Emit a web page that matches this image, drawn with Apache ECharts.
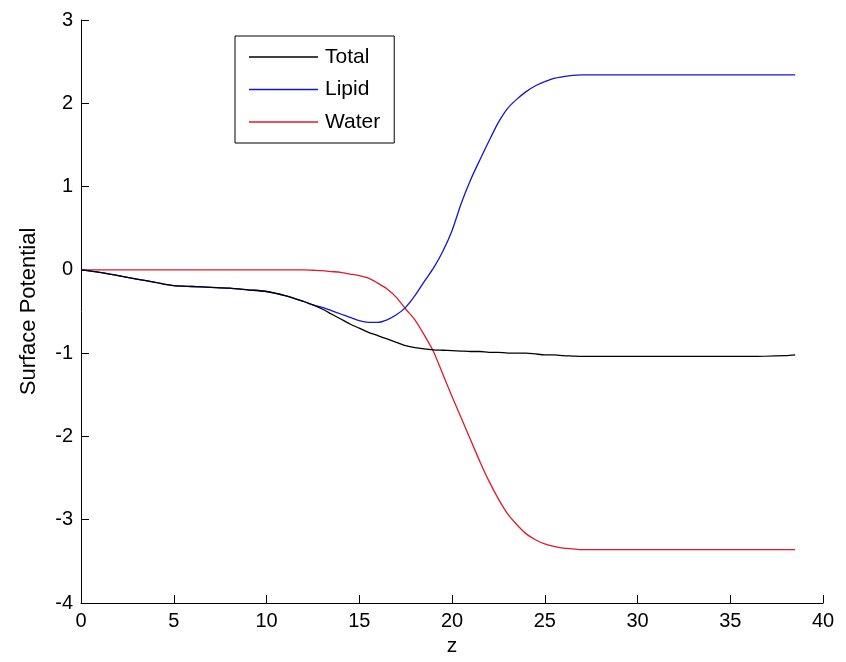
<!DOCTYPE html>
<html>
<head>
<meta charset="utf-8">
<script src="https://cdn.jsdelivr.net/npm/echarts@6/dist/echarts.min.js"></script>
<style>
  html, body { margin: 0; padding: 0; background: #ffffff; }
  #chart { width: 846px; height: 662px; }
</style>
</head>
<body>
<div id="chart"></div>
<script>
// Depth coordinate z
const zValues = [0, 1, 2, 3, 4, 5, 6, 7, 8, 9, 10, 11, 12, 12.5, 13, 13.5, 14, 14.5, 15, 15.5,
  16, 16.5, 17, 17.5, 18, 18.5, 19, 19.5, 20, 20.5, 21, 21.5, 22, 22.5, 23, 23.5, 24, 24.5,
  25, 25.5, 26, 26.5, 27, 28, 30, 32, 34, 36, 38, 38.5];

// Surface potential contributions at each z
const totalValues = [0, -0.03, -0.07, -0.11, -0.15, -0.19, -0.20, -0.21, -0.22, -0.24, -0.26, -0.31, -0.38, -0.42,
  -0.47, -0.53, -0.59, -0.65, -0.70, -0.75, -0.79, -0.83, -0.87, -0.91, -0.935, -0.95, -0.96, -0.965,
  -0.97, -0.975, -0.98, -0.98, -0.99, -0.99, -1.0, -1.0, -1.0, -1.01, -1.02, -1.02, -1.03, -1.035,
  -1.04, -1.04, -1.04, -1.04, -1.04, -1.04, -1.03, -1.02];

const lipidValues = [0, -0.03, -0.07, -0.11, -0.15, -0.19, -0.20, -0.21, -0.22, -0.24, -0.26, -0.31, -0.38, -0.42,
  -0.45, -0.49, -0.53, -0.57, -0.61, -0.63, -0.63, -0.60, -0.54, -0.45, -0.31, -0.14, 0.02, 0.22,
  0.47, 0.80, 1.08, 1.32, 1.55, 1.77, 1.94, 2.05, 2.14, 2.21, 2.26, 2.30, 2.32, 2.335,
  2.34, 2.34, 2.34, 2.34, 2.34, 2.34, 2.34, 2.34];

const waterValues = [0, 0, 0, 0, 0, 0, 0, 0, 0, 0, 0, 0, 0, -0.005,
  -0.01, -0.02, -0.03, -0.05, -0.07, -0.10, -0.16, -0.23, -0.33, -0.47, -0.60, -0.78, -0.98, -1.25,
  -1.52, -1.78, -2.04, -2.30, -2.54, -2.75, -2.93, -3.06, -3.17, -3.24, -3.29, -3.32, -3.34, -3.35,
  -3.36, -3.36, -3.36, -3.36, -3.36, -3.36, -3.36, -3.36];

const seriesNames = ['Total', 'Lipid', 'Water'];
const seriesColors = ['#000000', '#1515d0', '#e01a2a'];

const FONT = 'Liberation Sans';

function pairs(ys) {
  return zValues.map((z, i) => [z, ys[i]]);
}

const chart = echarts.init(document.getElementById('chart'), null, { renderer: 'canvas' });

const axisLine = { show: true, onZero: false, lineStyle: { color: '#000', width: 1 } };

chart.setOption({
  backgroundColor: '#ffffff',
  animation: false,
  grid: { left: 81, right: 23, top: 20, bottom: 59 },
  legend: {
    data: seriesNames.map((n, i) => ({ name: n, itemStyle: { color: seriesColors[i] } })),
    orient: 'vertical',
    left: 235,
    top: 36,
    padding: [10, 14, 10, 14],
    itemWidth: 69,
    itemHeight: 1.3,
    itemGap: 10.5,
    icon: 'rect',
    borderColor: '#000',
    borderWidth: 1,
    backgroundColor: '#ffffff',
    textStyle: { fontFamily: FONT, fontSize: 21, color: '#000', lineHeight: 22, padding: [0, 0, 0, 2] },
    selectedMode: false
  },
  xAxis: {
    type: 'value',
    min: 0,
    max: 40,
    interval: 5,
    name: 'z',
    nameLocation: 'middle',
    nameGap: 32,
    nameTextStyle: { fontFamily: FONT, fontSize: 21, color: '#000' },
    axisLine: axisLine,
    axisTick: { show: true, inside: true, length: 8, lineStyle: { color: '#000' } },
    axisLabel: { fontFamily: FONT, fontSize: 20, color: '#000', margin: 8 },
    splitLine: { show: false }
  },
  yAxis: {
    type: 'value',
    min: -4,
    max: 3,
    interval: 1,
    name: 'Surface Potential',
    nameLocation: 'middle',
    nameGap: 41,
    nameRotate: 90,
    nameTextStyle: { fontFamily: FONT, fontSize: 22, color: '#000' },
    axisLine: axisLine,
    axisTick: { show: true, inside: true, length: 8, lineStyle: { color: '#000' } },
    axisLabel: { fontFamily: FONT, fontSize: 20, color: '#000', margin: 8 },
    splitLine: { show: false }
  },
  series: [totalValues, lipidValues, waterValues].map((vals, i) => ({
    name: seriesNames[i],
    type: 'line',
    data: pairs(vals),
    showSymbol: false,
    symbol: 'none',
    smooth: 0.25,
    color: seriesColors[i],
    lineStyle: { color: seriesColors[i], width: 1.3 },
    z: 3 - i
  }))
});
</script>
</body>
</html>
